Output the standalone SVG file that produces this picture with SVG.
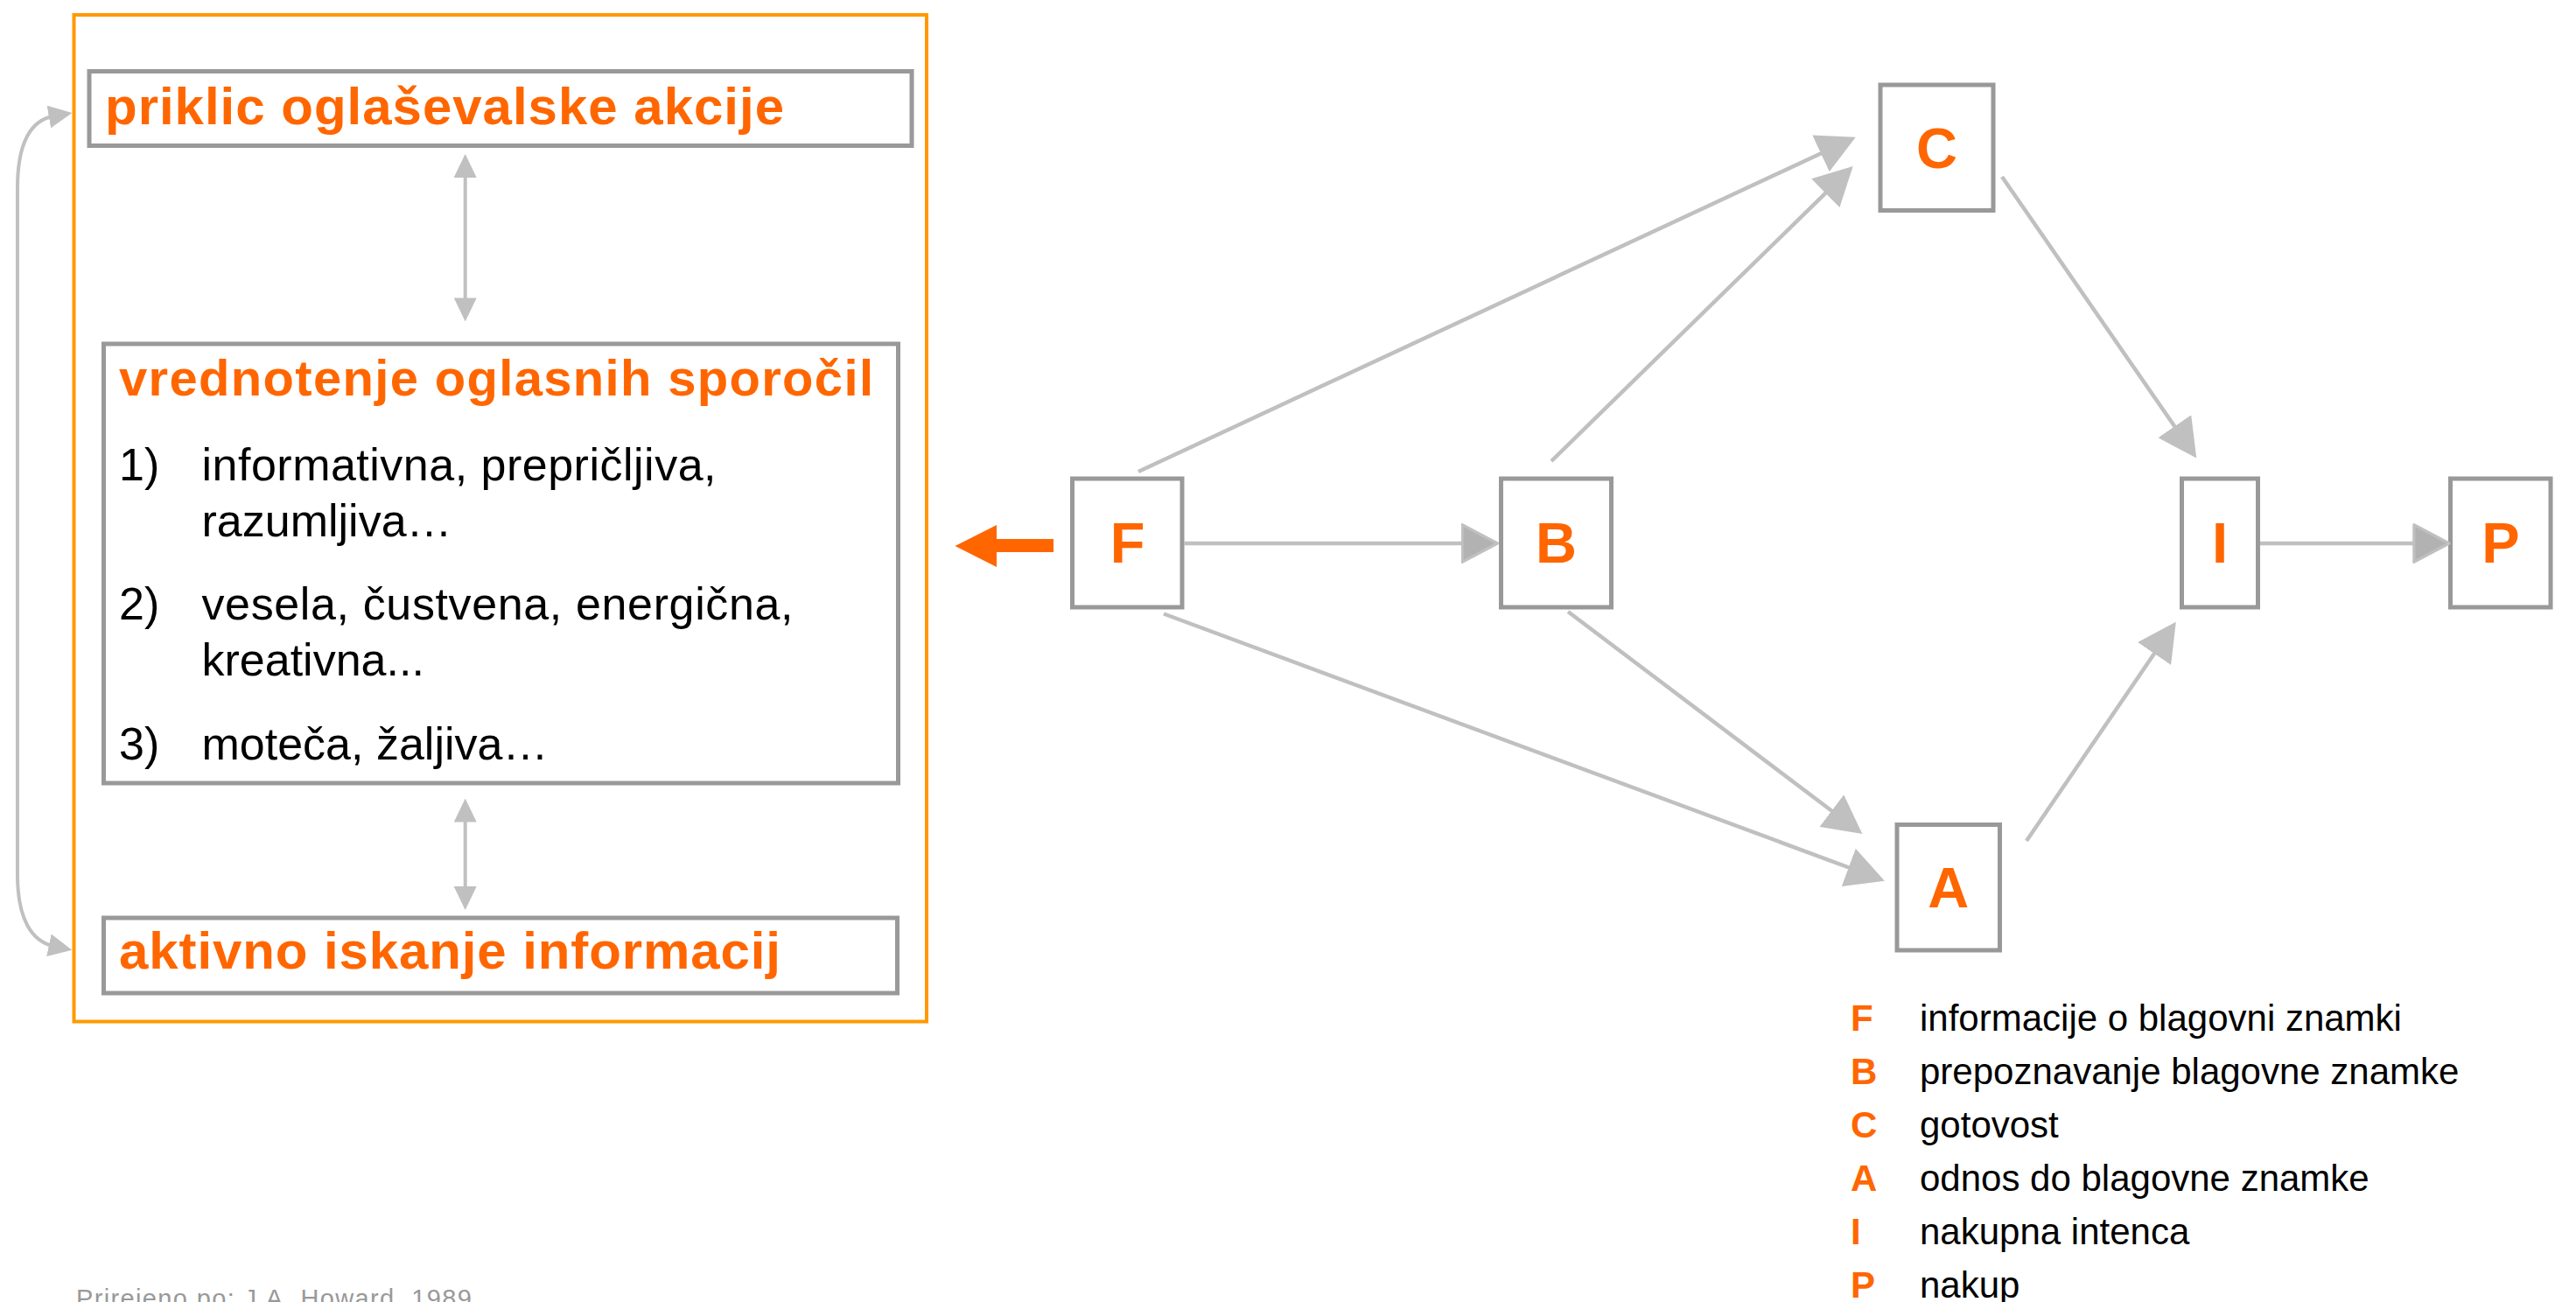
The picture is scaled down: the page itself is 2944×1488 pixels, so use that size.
<svg xmlns="http://www.w3.org/2000/svg" width="2944" height="1488" viewBox="0 0 2944 1488">
<style>
.box{fill:#fff;stroke:#999999;stroke-width:5}
.frame{fill:none;stroke:#FF9900;stroke-width:4}
.conn{fill:none;stroke:#C0C0C0;stroke-width:4.5}
.thin{fill:none;stroke:#C0C0C0;stroke-width:4}
.hd{font-family:"Liberation Sans",Arial,sans-serif;font-weight:bold;fill:#FF6600}
.tx{font-family:"Liberation Sans",Arial,sans-serif;fill:#000}
.node{font-family:"Liberation Sans",Arial,sans-serif;font-weight:bold;fill:#FF6600;font-size:65px;text-anchor:middle}
.leg{font-family:"Liberation Sans",Arial,sans-serif;font-size:42px}
.lk{font-weight:bold;fill:#FF6600}
.ft{font-family:"Liberation Sans",Arial,sans-serif;font-size:29px;fill:#999999}
</style>
<defs>
<marker id="big" markerUnits="userSpaceOnUse" markerWidth="44" markerHeight="46" viewBox="0 0 42 44" refX="32" refY="22" orient="auto">
<path d="M0,0 L42,22 L0,44 z" fill="#C0C0C0"/>
</marker>
<marker id="bigd" markerUnits="userSpaceOnUse" markerWidth="44" markerHeight="46" viewBox="0 0 42 44" refX="32" refY="22" orient="auto">
<path d="M1.5,1.5 L40,22 L1.5,42.5 z" fill="#B2B2B2" stroke="#C0C0C0" stroke-width="3" stroke-linejoin="round"/>
</marker>
<marker id="sm" markerUnits="userSpaceOnUse" markerWidth="27" markerHeight="26" viewBox="0 0 26 25" refX="6" refY="12.5" orient="auto-start-reverse">
<path d="M0,0 L26,12.5 L0,25 z" fill="#C0C0C0"/>
</marker>
</defs>

<g id="frame">
<rect class="frame" x="84.5" y="17" width="974.5" height="1150.5"/>
</g>

<g id="priklic">
<rect class="box" x="102" y="81.5" width="940" height="85"/>
<text class="hd" x="120" y="141.7" font-size="60" textLength="776">priklic oglaševalske akcije</text>
</g>

<g id="vrednotenje">
<rect class="box" x="118.5" y="393" width="908" height="502"/>
<text class="hd" x="136" y="451.7" font-size="58" textLength="862">vrednotenje oglasnih sporočil</text>
<text class="tx" x="136" y="549.3" font-size="52">1)</text>
<text class="tx" x="230.5" y="549.3" font-size="52" textLength="588">informativna, prepričljiva,</text>
<text class="tx" x="230.5" y="613" font-size="52">razumljiva…</text>
<text class="tx" x="136" y="708.3" font-size="52">2)</text>
<text class="tx" x="230.5" y="708.3" font-size="52" textLength="676">vesela, čustvena, energična,</text>
<text class="tx" x="230.5" y="771.7" font-size="52">kreativna...</text>
<text class="tx" x="136" y="868.3" font-size="52">3)</text>
<text class="tx" x="230.5" y="868.3" font-size="52">moteča, žaljiva…</text>
</g>

<g id="aktivno">
<rect class="box" x="118.5" y="1049" width="907" height="86"/>
<text class="hd" x="136" y="1106.7" font-size="60" textLength="756">aktivno iskanje informacij</text>
</g>

<g id="node-F">
<rect class="box" x="1225.5" y="547" width="125.5" height="147"/>
<text class="node" x="1288.5" y="643.3">F</text>
</g>
<g id="node-B">
<rect class="box" x="1715.5" y="547" width="126" height="147"/>
<text class="node" x="1778.5" y="643.3">B</text>
</g>
<g id="node-C">
<rect class="box" x="2149" y="97" width="129" height="143.5"/>
<text class="node" x="2213.5" y="191.5">C</text>
</g>
<g id="node-I">
<rect class="box" x="2493.5" y="547" width="87" height="147"/>
<text class="node" x="2537" y="643.3">I</text>
</g>
<g id="node-P">
<rect class="box" x="2800.5" y="547" width="114.5" height="147"/>
<text class="node" x="2858" y="643.3">P</text>
</g>
<g id="node-A">
<rect class="box" x="2168" y="942.5" width="117.5" height="143.5"/>
<text class="node" x="2226.8" y="1036.7">A</text>
</g>

<g id="connectors">
<path class="thin" d="M531.7,196.7 V346.7" marker-start="url(#sm)" marker-end="url(#sm)"/>
<path class="thin" d="M531.7,933.3 V1019.3" marker-start="url(#sm)" marker-end="url(#sm)"/>
<path class="thin" d="M62,132.5 C36,137 20,162 20,215 L20,1000 C20,1050 36,1076 62,1081.5" marker-start="url(#sm)" marker-end="url(#sm)"/>
<polygon points="1091.5,624 1139,600 1139,616 1204,616 1204,631 1139,631 1139,648" fill="#FF6600"/>
<path class="conn" d="M1353,621 L1703,621" marker-end="url(#bigd)"/>
<path class="conn" d="M1301,539 L2111.3,161.2" marker-end="url(#big)"/>
<path class="conn" d="M1773,527 L2110.2,197.4" marker-end="url(#big)"/>
<path class="conn" d="M2288,202 L2504.3,514.8" marker-end="url(#big)"/>
<path class="conn" d="M2583,621 L2790.7,621" marker-end="url(#bigd)"/>
<path class="conn" d="M1330,701.5 L2144.1,1003" marker-end="url(#big)"/>
<path class="conn" d="M1792,699 L2120,946.8" marker-end="url(#big)"/>
<path class="conn" d="M2316,961 L2480.9,719.3" marker-end="url(#big)"/>
</g>

<g id="legend" class="leg">
<text class="lk" x="2115" y="1177.5">F</text><text x="2194" y="1177.5">informacije o blagovni znamki</text>
<text class="lk" x="2115" y="1238.5">B</text><text x="2194" y="1238.5">prepoznavanje blagovne znamke</text>
<text class="lk" x="2115" y="1299.5">C</text><text x="2194" y="1299.5">gotovost</text>
<text class="lk" x="2115" y="1360.5">A</text><text x="2194" y="1360.5">odnos do blagovne znamke</text>
<text class="lk" x="2115" y="1421.5">I</text><text x="2194" y="1421.5">nakupna intenca</text>
<text class="lk" x="2115" y="1482.5">P</text><text x="2194" y="1482.5">nakup</text>
</g>

<g id="source">
<text class="ft" x="87" y="1494" textLength="452">Prirejeno po: J.A. Howard, 1989</text>
</g>
</svg>
